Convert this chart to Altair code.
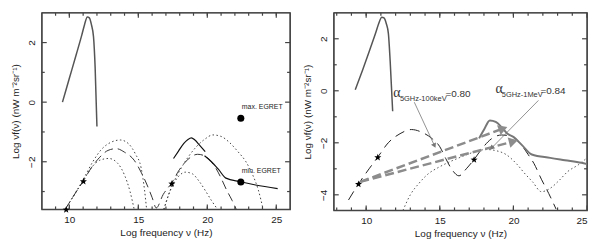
import math
import altair as alt
import pandas as pd

# ---------------- LEFT PANEL DATA ----------------
L_xdom = [8.0, 26.0]
L_ydom = [-3.6, 3.0]
L_cmb_x = [9.5, 10.0, 10.5, 10.9, 11.1, 11.3, 11.45, 11.6, 11.75, 11.87, 12.0]
L_cmb_y = [0.0, 0.8, 1.6, 2.25, 2.6, 2.86, 2.83, 2.6, 2.2, 1.15, -0.82]
L_dash_x = [9.7, 10.3, 11.0, 11.6, 12.2, 12.8, 13.4, 14.0, 14.7, 15.2, 15.7, 16.0, 16.3,
            16.8, 17.4, 18.0, 18.6, 19.3, 19.8, 20.2, 20.6, 21.0, 21.4, 21.8, 22.1]
L_dash_y = [-3.6, -3.15, -2.65, -2.2, -1.85, -1.62, -1.56, -1.68, -1.95, -2.35, -2.85, -3.2, -3.55,
            -3.1, -2.72, -2.25, -1.92, -1.75, -1.8, -1.95, -2.2, -2.55, -2.95, -3.3, -3.6]
L_dot1_x = [9.7, 10.3, 11.0, 11.7, 12.3, 13.0, 13.7, 14.3, 14.8, 15.2, 15.45, 15.6]
L_dot1_y = [-3.6, -3.15, -2.6, -2.0, -1.6, -1.35, -1.27, -1.4, -1.75, -2.2, -2.95, -3.6]
L_dot2_x = [9.7, 10.3, 11.0, 11.6, 12.2, 12.86, 13.5, 14.0, 14.4, 14.7]
L_dot2_y = [-3.6, -3.15, -2.65, -2.2, -1.95, -1.89, -2.05, -2.45, -3.0, -3.6]
L_dot3_x = [16.85, 17.2, 17.6, 18.0, 18.4, 18.9, 19.4, 19.9, 20.3, 20.75]
L_dot3_y = [-3.6, -3.1, -2.7, -2.45, -2.35, -2.4, -2.65, -3.0, -3.3, -3.6]
L_dot4_x = [16.85, 17.4, 18.0, 18.6, 19.2, 19.8, 20.4, 21.0, 21.6, 22.2, 22.8, 23.3, 23.7, 24.05]
L_dot4_y = [-3.6, -2.85, -2.3, -1.85, -1.5, -1.25, -1.1, -1.15, -1.35, -1.65, -2.0, -2.45, -2.95, -3.6]
L_comp_x = [17.55, 17.9, 18.3, 18.6, 18.85, 19.1, 19.45, 19.85]
L_comp_y = [-1.89, -1.65, -1.38, -1.25, -1.2, -1.27, -1.45, -1.66]
L_tail_x = [19.8, 20.3, 20.8, 21.35, 22.4, 23.5, 25.1]
L_tail_y = [-1.8, -2.0, -2.25, -2.55, -2.67, -2.78, -2.9]
L_star_x = [9.77, 11.02, 17.43]
L_star_y = [-3.6, -2.65, -2.73]
L_egret_x = [22.43, 22.43]
L_egret_y = [-0.54, -2.68]
L_egret_lab = ["max. EGRET", "min. EGRET"]
L_xlab = [10, 15, 20, 25]
L_ylab = [-2, 0, 2]
L_xminor = list(range(9, 26))
L_yminor = [-3, -1, 1]

# ---------------- RIGHT PANEL DATA ----------------
R_xdom = [7.8, 25.0]
R_ydom = [-4.6, 3.0]
R_cmb_x = [9.26, 9.76, 10.26, 10.66, 10.86, 11.06, 11.21, 11.36, 11.51, 11.63, 11.8]
R_cmb_y = [0.04, 0.8, 1.6, 2.25, 2.6, 2.83, 2.8, 2.6, 2.2, 1.15, -0.79]
R_dash_x = [8.8, 9.48, 10.2, 10.79, 11.5, 12.3, 13.07, 13.8, 14.5, 15.0, 15.4, 15.85, 16.3,
            16.8, 17.33, 17.9, 18.5, 19.2, 19.9, 20.5, 21.0, 21.4, 21.9, 22.4, 22.9]
R_dash_y = [-4.2, -3.58, -3.0, -2.55, -2.0, -1.65, -1.49, -1.6, -1.85, -2.15, -2.6, -3.05, -3.27,
            -3.0, -2.64, -2.2, -1.85, -1.7, -1.75, -2.05, -2.45, -2.8, -3.4, -3.95, -4.55]
R_dot_x = [12.5, 13.0, 13.6, 14.2, 14.9, 15.6, 16.3, 17.0, 17.7, 18.2, 18.8, 19.5, 20.2, 20.8,
           21.3, 21.9, 22.5, 23.1, 23.7, 24.4, 25.0]
R_dot_y = [-4.6, -4.0, -3.55, -3.2, -2.95, -2.75, -2.58, -2.42, -2.29, -2.26, -2.3, -2.45, -2.8, -3.2,
           -3.5, -3.88, -3.75, -3.45, -3.1, -2.85, -2.58]
R_solid_x = [17.67, 18.0, 18.4, 18.8, 19.2, 19.6, 20.02, 20.6, 21.25, 22.5, 23.5, 24.62, 25.0]
R_solid_y = [-1.83, -1.5, -1.14, -1.2, -1.4, -1.65, -1.78, -2.1, -2.45, -2.58, -2.67, -2.77, -2.82]
R_star_x = [9.48, 10.79, 17.33]
R_star_y = [-3.58, -2.55, -2.64]
R_arr_x0 = [9.6, 9.6]
R_arr_y0 = [-3.5, -3.5]
R_arr_x1 = [19.3, 20.0]
R_arr_y1 = [-1.45, -1.95]
R_ann_x0 = [13.27, 21.7]
R_ann_y0 = [-0.44, -0.37]
R_ann_x1 = [14.64, 18.52]
R_ann_y1 = [-2.11, -2.2]
R_alpha_x = [11.84, 18.79]
R_alpha_y = [-0.1, 0.05]
R_sub_x = [12.29, 19.21]
R_sub_y = [-0.3, -0.15]
R_sub_txt = ["5GHz-100keV", "5GHz-1MeV"]
R_eq_x = [15.38, 21.84]
R_eq_y = [-0.14, 0.01]
R_eq_txt = ["=0.80", "=0.84"]
R_xlab = [10, 15, 20, 25]
R_ylab = [-4, -2, 0, 2]
R_xminor = list(range(8, 25))
R_yminor = [-3, -1, 1]

YTITLE = "Log \u03bdf(\u03bd) (nW m\u207b\u00b2sr\u207b\u00b9)"
XTITLE = "Log frequency \u03bd (Hz)"
FONT = "Liberation Sans"
FRAME = "#444444"
MAJOR, MINOR = 5.0, 3.0

# five-pointed star as a custom symbol path in the [-1, 1] box
_pts = []
for k in range(10):
    a = math.radians(-90 + 36 * k)
    r = 1.0 if k % 2 == 0 else 0.42
    _pts.append("%.3f,%.3f" % (r * math.cos(a), r * math.sin(a) + 0.1))
STAR = "M" + " L".join(_pts) + " Z"


def df(xs, ys, **extra):
    d = pd.DataFrame({"x": xs, "y": ys})
    for k, v in extra.items():
        d[k] = v
    return d


def series(pairs):
    frames = []
    for k, (xx, yy) in enumerate(pairs):
        frames.append(df(xx, yy, s=str(k), i=list(range(len(xx)))))
    return pd.concat(frames, ignore_index=True)


def panel(xdom, ydom, W, H, xlab, ylab, xminor, yminor, first, rest):
    xs = alt.Scale(domain=xdom, nice=False, zero=False)
    ys = alt.Scale(domain=ydom, nice=False, zero=False)
    X = lambda: alt.X("x:Q", scale=xs, axis=None)
    Y = lambda: alt.Y("y:Q", scale=ys, axis=None)
    d0, mk0 = first
    layers = [alt.Chart(d0).mark_line(clip=True, interpolate="monotone", **mk0).encode(
        x=alt.X("x:Q", scale=xs, title=XTITLE, axis=alt.Axis(
            orient="bottom", values=xlab, ticks=False, domain=False, grid=False, labelPadding=5,
            labelFontSize=10, titleFontSize=10, titlePadding=3)),
        y=alt.Y("y:Q", scale=ys, title=YTITLE, axis=alt.Axis(
            orient="left", values=ylab, ticks=False, domain=False, grid=False, labelAngle=270,
            labelAlign="center", labelBaseline="bottom", labelPadding=5,
            labelFontSize=10, titleFontSize=10, titlePadding=6)),
        detail="s:N", order="i:Q")]
    lx = (xdom[1] - xdom[0]) / W
    ly = (ydom[1] - ydom[0]) / H
    # frame edges plus inward ticks on all four sides
    vt = [{"x": xdom[0], "y": ydom[0], "y2": ydom[1]}, {"x": xdom[1], "y": ydom[0], "y2": ydom[1]}]
    for vals, L in [(xlab, MAJOR), (xminor, MINOR)]:
        for v in vals:
            vt.append({"x": v, "y": ydom[0], "y2": ydom[0] + L * ly})
            vt.append({"x": v, "y": ydom[1], "y2": ydom[1] - L * ly})
    ht = [{"y": ydom[0], "x": xdom[0], "x2": xdom[1]}, {"y": ydom[1], "x": xdom[0], "x2": xdom[1]}]
    for vals, L in [(ylab, MAJOR), (yminor, MINOR)]:
        for v in vals:
            ht.append({"y": v, "x": xdom[0], "x2": xdom[0] + L * lx})
            ht.append({"y": v, "x": xdom[1], "x2": xdom[1] - L * lx})
    layers.append(alt.Chart(pd.DataFrame(vt)).mark_rule(color=FRAME, strokeWidth=1.2).encode(
        x=X(), y=Y(), y2="y2:Q"))
    layers.append(alt.Chart(pd.DataFrame(ht)).mark_rule(color=FRAME, strokeWidth=1.2).encode(
        x=X(), x2="x2:Q", y=Y()))
    for kind, d, mk in rest:
        if kind == "line":
            layers.append(alt.Chart(d).mark_line(clip=True, interpolate="monotone", **mk).encode(
                x=X(), y=Y(), detail="s:N", order="i:Q"))
        elif kind == "seg":
            layers.append(alt.Chart(d).mark_line(clip=True, **mk).encode(
                x=X(), y=Y(), detail="s:N", order="i:Q"))
        elif kind == "point":
            layers.append(alt.Chart(d).mark_point(**mk).encode(x=X(), y=Y()))
        elif kind == "text":
            layers.append(alt.Chart(d).mark_text(**mk).encode(x=X(), y=Y(), text="t:N"))
    return alt.layer(*layers).resolve_axis(x="independent", y="independent").properties(
        width=W, height=H)


STAR_MK = dict(shape=STAR, filled=True, size=55, color="black", opacity=1, strokeWidth=0)

# ---------------- LEFT PANEL ----------------
LW, LH = 250, 198
left = panel(
    L_xdom, L_ydom, LW, LH, L_xlab, L_ylab, L_xminor, L_yminor,
    (series([(L_cmb_x, L_cmb_y)]), dict(color="#555555", strokeWidth=1.5)),
    [
        ("line", series([(L_dot1_x, L_dot1_y), (L_dot2_x, L_dot2_y), (L_dot3_x, L_dot3_y),
                         (L_dot4_x, L_dot4_y)]),
         dict(color="#444444", strokeWidth=1, strokeDash=[1.5, 2.5])),
        ("line", series([(L_dash_x, L_dash_y)]),
         dict(color="#333333", strokeWidth=1, strokeDash=[9, 5])),
        ("line", series([(L_comp_x, L_comp_y), (L_tail_x, L_tail_y)]),
         dict(color="#111111", strokeWidth=1.2)),
        ("point", df(L_star_x, L_star_y), STAR_MK),
        ("point", df(L_egret_x, L_egret_y),
         dict(shape="circle", filled=True, size=50, color="black", opacity=1)),
        ("text", df(L_egret_x, L_egret_y, t=L_egret_lab),
         dict(align="left", baseline="middle", dx=1, dy=-11, fontSize=7, font=FONT,
              color="#222222")),
    ])

# ---------------- RIGHT PANEL ----------------
RW, RH = 255, 199
ppx = RW / (R_xdom[1] - R_xdom[0])
ppy = RH / (R_ydom[1] - R_ydom[0])


def ang(a0, b0, a1, b1):
    return math.degrees(math.atan2(-(b1 - b0) * ppy, (a1 - a0) * ppx)) % 360


arr_lines = series([([a, c], [b, d]) for a, b, c, d in zip(R_arr_x0, R_arr_y0, R_arr_x1, R_arr_y1)])
ann_lines = series([([a, c], [b, d]) for a, b, c, d in zip(R_ann_x0, R_ann_y0, R_ann_x1, R_ann_y1)])
heads = []
for k in range(2):
    heads.append(("point", df([R_arr_x1[k]], [R_arr_y1[k]]),
                  dict(shape="triangle-right", filled=True, size=110, color="#8c8c8c", opacity=1,
                       angle=ang(R_arr_x0[k], R_arr_y0[k], R_arr_x1[k], R_arr_y1[k]))))
    heads.append(("point", df([R_ann_x1[k]], [R_ann_y1[k]]),
                  dict(shape="triangle-right", filled=True, size=30, color="#777777", opacity=1,
                       angle=ang(R_ann_x0[k], R_ann_y0[k], R_ann_x1[k], R_ann_y1[k]))))

right = panel(
    R_xdom, R_ydom, RW, RH, R_xlab, R_ylab, R_xminor, R_yminor,
    (series([(R_cmb_x, R_cmb_y)]), dict(color="#555555", strokeWidth=1.5)),
    [
        ("line", series([(R_dot_x, R_dot_y)]),
         dict(color="#555555", strokeWidth=1, strokeDash=[1.5, 2.5])),
        ("line", series([(R_dash_x, R_dash_y)]),
         dict(color="#222222", strokeWidth=1, strokeDash=[10, 6])),
        ("line", series([(R_solid_x, R_solid_y)]), dict(color="#777777", strokeWidth=2)),
        ("seg", arr_lines, dict(color="#8c8c8c", strokeWidth=2.5, strokeDash=[9, 4])),
        ("seg", ann_lines, dict(color="#777777", strokeWidth=0.8)),
    ] + heads + [
        ("point", df(R_star_x, R_star_y), STAR_MK),
        ("text", df(R_alpha_x, R_alpha_y, t=["\u03b1", "\u03b1"]),
         dict(align="left", baseline="middle", fontSize=14, font="Liberation Serif",
              color="#333333")),
        ("text", df(R_sub_x, R_sub_y, t=R_sub_txt),
         dict(align="left", baseline="middle", fontSize=7.5, font=FONT, color="#333333")),
        ("text", df(R_eq_x, R_eq_y, t=R_eq_txt),
         dict(align="left", baseline="middle", fontSize=10, font=FONT, color="#333333")),
    ])

chart = alt.hconcat(left, right, spacing=10).properties(padding=2).configure_view(
    stroke=FRAME, strokeWidth=1.3
).configure_axis(
    labelFont=FONT, titleFont=FONT, labelColor="#222222", titleColor="#222222",
    titleFontWeight="normal"
)

chart.save("out.html", embed_options={"renderer": "svg", "actions": False})
